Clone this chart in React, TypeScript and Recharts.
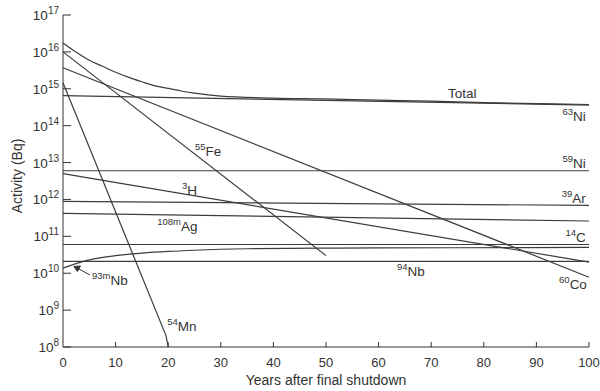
import { Line, LineChart, ReferenceDot, XAxis, YAxis } from "recharts";

const INK = "#333333";
const LINE = "#3c3c3c";
const FONT = '"Liberation Sans", Arial, sans-serif';

const YEAR_TICKS = [0, 10, 20, 30, 40, 50, 60, 70, 80, 90, 100];
const ACTIVITY_TICKS = [1e8, 1e9, 1e10, 1e11, 1e12, 1e13, 1e14, 1e15, 1e16, 1e17];

// activity (Bq) against years after final shutdown
const totalYears = [0, 2.5, 5, 7.5, 10, 12.5, 15, 17.5, 20, 22.5, 25, 30, 40, 50, 60, 70, 80, 90, 100];
const totalValues = [
  1.74e16, 9.8e15, 5.9e15, 4.1e15, 2.8e15, 2.04e15, 1.55e15, 1.2e15, 1.02e15, 8.7e14,
  7.6e14, 6.3e14, 5.6e14, 5.3e14, 4.9e14, 4.6e14, 4.2e14, 3.95e14, 3.75e14,
];

const ni63Years = [0, 100];
const ni63Values = [6.5e14, 3.6e14];

const co60Years = [0, 100];
const co60Values = [3.7e15, 7.8e9];

const fe55Years = [0, 50];
const fe55Values = [1.0e16, 3.0e10];

const mn54Years = [0, 19.6, 20];
const mn54Values = [1.45e15, 2.0e8, 1.0e8];

const ni59Years = [0, 100];
const ni59Values = [6.0e12, 6.0e12];

const h3Years = [0, 100];
const h3Values = [5.0e12, 2.0e10];

const ar39Years = [0, 100];
const ar39Values = [8.9e11, 6.9e11];

const ag108mYears = [0, 100];
const ag108mValues = [4.2e11, 2.6e11];

const c14Years = [0, 100];
const c14Values = [6.0e10, 6.0e10];

const nb93mYears = [0, 5, 10, 15, 20, 25, 35, 50, 75, 100];
const nb93mValues = [
  1.38e10, 2.3e10, 3.0e10, 3.5e10, 3.9e10, 4.2e10, 4.6e10, 4.8e10, 4.9e10, 5.0e10,
];

const nb94Years = [0, 100];
const nb94Values = [2.1e10, 2.1e10];

const toRows = (years: number[], values: number[]) =>
  years.map((year, i) => ({ year, activity: values[i] }));

const series = [
  { key: "total", years: totalYears, values: totalValues, curve: "monotone" },
  { key: "ni63", years: ni63Years, values: ni63Values, curve: "linear" },
  { key: "co60", years: co60Years, values: co60Values, curve: "linear" },
  { key: "fe55", years: fe55Years, values: fe55Values, curve: "linear" },
  { key: "mn54", years: mn54Years, values: mn54Values, curve: "linear" },
  { key: "ni59", years: ni59Years, values: ni59Values, curve: "linear" },
  { key: "h3", years: h3Years, values: h3Values, curve: "linear" },
  { key: "ar39", years: ar39Years, values: ar39Values, curve: "linear" },
  { key: "ag108m", years: ag108mYears, values: ag108mValues, curve: "linear" },
  { key: "c14", years: c14Years, values: c14Values, curve: "linear" },
  { key: "nb93m", years: nb93mYears, values: nb93mValues, curve: "monotone" },
  { key: "nb94", years: nb94Years, values: nb94Values, curve: "linear" },
];

// curve labels: mass number (superscript) and element
const labelSups = ["", "63", "59", "39", "14", "60", "94", "55", "3", "108m", "93m", "54"];
const labelNames = ["Total", "Ni", "Ni", "Ar", "C", "Co", "Nb", "Fe", "H", "Ag", "Nb", "Mn"];
// where each label sits, in chart units
const labelAt = [
  { year: 73.2, value: 5.7e14, anchor: "start" },
  { year: 99.4, value: 1.3e14, anchor: "end" },
  { year: 99.4, value: 7.2e12, anchor: "end" },
  { year: 99.4, value: 7.8e11, anchor: "end" },
  { year: 99.4, value: 6.9e10, anchor: "end" },
  { year: 99.6, value: 3.7e9, anchor: "end" },
  { year: 63.5, value: 8.3e9, anchor: "start" },
  { year: 25.1, value: 1.55e13, anchor: "start" },
  { year: 22.6, value: 1.3e12, anchor: "start" },
  { year: 17.9, value: 1.4e11, anchor: "start" },
  { year: 5.5, value: 4.8e9, anchor: "start" },
  { year: 19.8, value: 2.7e8, anchor: "start" },
];

function YTick({ x, y, payload }: any) {
  const exp = Math.round(Math.log10(payload.value));
  return (
    <g>
      <line x1={x} x2={x + 8} y1={y} y2={y} stroke={INK} />
      <text x={x - 4} y={y + 5} textAnchor="end" fill={INK} fontSize={13.5}>
        10
        <tspan fontSize={10} dy={-6}>
          {exp}
        </tspan>
      </text>
    </g>
  );
}

function XTick({ x, y, payload }: any) {
  return (
    <g>
      {payload.value > 0 && <line x1={x} x2={x} y1={y} y2={y - 5} stroke={INK} />}
      <text x={x} y={y + 20} textAnchor="middle" fill={INK} fontSize={13}>
        {payload.value}
      </text>
    </g>
  );
}

function CurveLabel({ cx, cy, sup, name, anchor, arrow }: any) {
  return (
    <g>
      {arrow && (
        <g stroke={INK} fill={INK}>
          <line x1={cx - 2} y1={cy - 10} x2={cx - 14} y2={cy - 16.5} />
          <path d={`M${cx - 18},${cy - 18.5} L${cx - 11.5},${cy - 19} L${cx - 14.5},${cy - 13.5} Z`} />
        </g>
      )}
      <text x={cx} y={cy} textAnchor={anchor} fill={INK} fontSize={13.5}>
        {sup && (
          <tspan fontSize={9.5} dy={-6}>
            {sup}
          </tspan>
        )}
        <tspan dy={sup ? 6 : 0}>{name}</tspan>
      </text>
    </g>
  );
}

export default function App() {
  return (
    <div style={{ position: "absolute", left: 0, top: 0, fontFamily: FONT }}>
      <LineChart width={600} height={391} margin={{ top: 15, right: 11, bottom: 6, left: 8 }}>
        <XAxis
          dataKey="year"
          type="number"
          domain={[0, 100]}
          ticks={YEAR_TICKS}
          height={38}
          tickSize={0}
          tickMargin={0}
          tickLine={false}
          axisLine={{ stroke: INK }}
          tick={<XTick />}
          interval={0}
          label={{
            value: "Years after final shutdown",
            position: "insideBottom",
            offset: 0,
            fill: INK,
            fontSize: 14,
          }}
        />
        <YAxis
          dataKey="activity"
          scale="log"
          domain={[1e8, 1e17]}
          ticks={ACTIVITY_TICKS}
          allowDataOverflow
          width={55}
          tickSize={0}
          tickMargin={0}
          tickLine={false}
          axisLine={{ stroke: INK }}
          tick={<YTick />}
          interval={0}
          label={{
            content: ({ viewBox }: any) => {
              const lx = viewBox.x + 14;
              const ly = viewBox.y + viewBox.height / 2 - 5;
              return (
                <text
                  x={lx}
                  y={ly}
                  transform={`rotate(-90 ${lx} ${ly})`}
                  textAnchor="middle"
                  fill={INK}
                  fontSize={14}
                >
                  Activity (Bq)
                </text>
              );
            },
          }}
        />
        {series.map((s) => (
          <Line
            key={s.key}
            data={toRows(s.years, s.values)}
            dataKey="activity"
            type={s.curve as any}
            stroke={LINE}
            strokeWidth={1.2}
            dot={false}
            activeDot={false}
            isAnimationActive={false}
          />
        ))}
        {labelNames.map((name, i) => (
          <ReferenceDot
            key={`${name}-${i}`}
            x={labelAt[i].year}
            y={labelAt[i].value}
            r={0}
            ifOverflow="visible"
            shape={(p: any) => (
              <CurveLabel
                cx={p.cx}
                cy={p.cy}
                sup={labelSups[i]}
                name={name}
                anchor={labelAt[i].anchor}
                arrow={labelSups[i] === "93m"}
              />
            )}
          />
        ))}
      </LineChart>
    </div>
  );
}
